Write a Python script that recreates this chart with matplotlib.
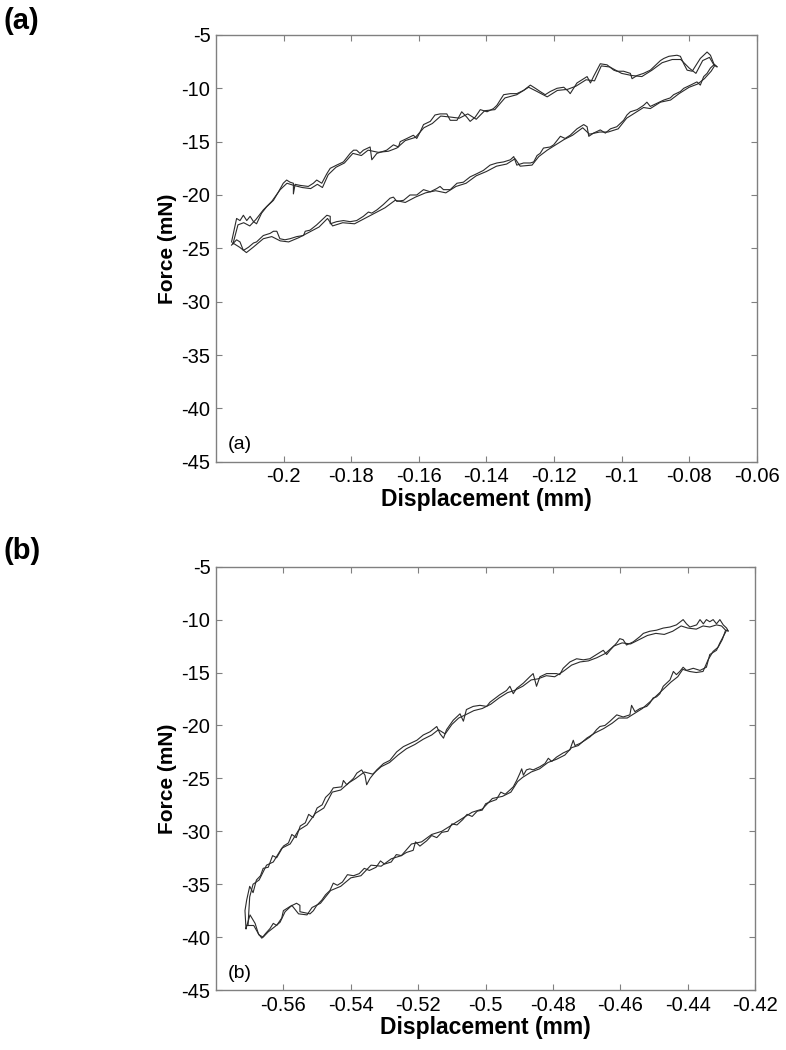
import numpy as np
import matplotlib
matplotlib.use("Agg")
from matplotlib import pyplot as plt

plt.rcParams['font.family'] = ['Liberation Sans', 'DejaVu Sans']
plt.rcParams['axes.unicode_minus'] = False

# ---- panel (a): one loading cycle traced twice (x in mm, force in mN) ----
a1_up_x = [-0.2154, -0.2139, -0.2129, -0.2119, -0.2109, -0.2099, -0.2089, -0.2080, -0.2065, -0.2050,
           -0.2030, -0.2015, -0.2001, -0.1991, -0.1981, -0.1971, -0.1971, -0.1966, -0.1951, -0.1927,
           -0.1912, -0.1902, -0.1887, -0.1872, -0.1862, -0.1843, -0.1823, -0.1803, -0.1793, -0.1784,
           -0.1774, -0.1764, -0.1744, -0.1739, -0.1724, -0.1695, -0.1675, -0.1660, -0.1655, -0.1635,
           -0.1616, -0.1606, -0.1596, -0.1586, -0.1566, -0.1552, -0.1537, -0.1517, -0.1507, -0.1487,
           -0.1473, -0.1458, -0.1448, -0.1433, -0.1418, -0.1398, -0.1379, -0.1369, -0.1349, -0.1329,
           -0.1310, -0.1290, -0.1270, -0.1255, -0.1241, -0.1226, -0.1211, -0.1191, -0.1171, -0.1157,
           -0.1152, -0.1132, -0.1112, -0.1102, -0.1092, -0.1083, -0.1063, -0.1043, -0.1023, -0.1014,
           -0.0994, -0.0974, -0.0969, -0.0954, -0.0935, -0.0915, -0.0905, -0.0885, -0.0875, -0.0860,
           -0.0836, -0.0826, -0.0816, -0.0806, -0.0791, -0.0777, -0.0767, -0.0757, -0.0747, -0.0737,
           -0.0727, -0.0717]
a1_up_y = [-24.4, -22.2, -22.4, -21.9, -22.4, -22.0, -22.5, -22.7, -21.7, -21.1,
           -20.5, -19.7, -18.9, -18.6, -18.8, -18.9, -19.9, -19.0, -19.1, -19.2,
           -18.9, -18.6, -18.9, -18.0, -17.5, -17.2, -16.9, -16.1, -15.8, -15.8,
           -16.1, -15.8, -15.5, -16.7, -16.1, -15.8, -15.3, -15.5, -15.0, -14.7,
           -14.4, -14.7, -14.1, -13.4, -13.1, -12.5, -12.4, -12.4, -13.0, -13.0,
           -12.2, -12.7, -13.1, -12.7, -12.0, -12.2, -11.9, -11.6, -10.6, -10.5,
           -10.5, -10.2, -9.7, -10.0, -10.3, -10.6, -10.3, -10.0, -9.9, -10.3,
           -10.5, -9.5, -9.1, -8.9, -9.5, -8.9, -7.7, -7.8, -8.3, -8.4,
           -8.4, -8.6, -9.1, -8.8, -8.6, -8.3, -8.0, -7.4, -7.2, -7.0,
           -6.9, -7.0, -7.7, -8.3, -8.4, -7.7, -7.2, -6.9, -6.6, -6.9,
           -7.7, -8.0]
a1_lo_x = [-0.2154, -0.2139, -0.2129, -0.2119, -0.2104, -0.2089, -0.2080, -0.2060, -0.2040, -0.2030,
           -0.2020, -0.2011, -0.1996, -0.1981, -0.1961, -0.1941, -0.1936, -0.1922, -0.1902, -0.1882,
           -0.1872, -0.1862, -0.1862, -0.1843, -0.1823, -0.1803, -0.1784, -0.1764, -0.1749, -0.1739,
           -0.1724, -0.1705, -0.1685, -0.1675, -0.1665, -0.1645, -0.1626, -0.1606, -0.1586, -0.1566,
           -0.1547, -0.1537, -0.1527, -0.1507, -0.1487, -0.1468, -0.1448, -0.1428, -0.1409, -0.1389,
           -0.1369, -0.1349, -0.1329, -0.1319, -0.1310, -0.1290, -0.1270, -0.1260, -0.1250, -0.1241,
           -0.1231, -0.1211, -0.1201, -0.1191, -0.1181, -0.1167, -0.1152, -0.1132, -0.1112, -0.1102,
           -0.1097, -0.1083, -0.1063, -0.1048, -0.1033, -0.1014, -0.0994, -0.0984, -0.0974, -0.0954,
           -0.0935, -0.0925, -0.0915, -0.0895, -0.0875, -0.0856, -0.0846, -0.0826, -0.0816, -0.0796,
           -0.0777, -0.0767, -0.0757, -0.0747, -0.0737, -0.0727, -0.0717]
a1_lo_y = [-24.7, -24.2, -24.4, -25.2, -24.9, -24.5, -24.4, -23.8, -23.6, -23.4,
           -23.4, -24.1, -24.2, -24.1, -23.9, -23.8, -23.4, -23.3, -22.8, -22.2,
           -21.9, -22.0, -22.7, -22.5, -22.4, -22.5, -22.4, -22.0, -21.6, -21.7,
           -21.4, -20.9, -20.3, -20.2, -20.6, -20.5, -20.0, -20.0, -19.5, -19.7,
           -19.4, -19.2, -19.5, -19.5, -18.9, -18.8, -18.3, -18.0, -17.7, -17.2,
           -17.0, -16.9, -16.7, -16.4, -17.2, -17.0, -17.0, -16.9, -16.3, -16.1,
           -15.6, -15.5, -15.3, -14.9, -14.5, -14.7, -14.4, -13.8, -13.4, -13.6,
           -14.5, -14.2, -13.9, -14.2, -13.8, -13.6, -13.0, -12.5, -12.2, -12.0,
           -11.6, -11.3, -11.7, -11.4, -11.1, -10.9, -10.6, -10.3, -10.0, -9.7,
           -9.4, -9.7, -8.9, -8.6, -8.1, -7.8, -8.0]

a2_up_x = [-0.2150, -0.2135, -0.2118, -0.2100, -0.2082, -0.2060, -0.2035, -0.2010, -0.1990, -0.1970,
           -0.1945, -0.1920, -0.1900, -0.1885, -0.1868, -0.1845, -0.1820, -0.1795, -0.1770, -0.1750,
           -0.1720, -0.1690, -0.1665, -0.1640, -0.1610, -0.1585, -0.1560, -0.1535, -0.1505, -0.1480,
           -0.1455, -0.1430, -0.1405, -0.1375, -0.1345, -0.1310, -0.1275, -0.1250, -0.1220, -0.1190,
           -0.1160, -0.1135, -0.1105, -0.1080, -0.1060, -0.1035, -0.1000, -0.0970, -0.0940, -0.0910,
           -0.0880, -0.0850, -0.0825, -0.0800, -0.0780, -0.0760, -0.0740, -0.0725]
a2_up_y = [-24.6, -22.8, -22.6, -22.9, -22.3, -21.4, -20.6, -19.5, -18.9, -19.1,
           -19.3, -19.4, -19.0, -19.3, -18.1, -17.4, -17.0, -16.1, -16.3, -15.8,
           -16.0, -15.9, -15.6, -14.9, -14.6, -13.7, -13.3, -12.6, -12.7, -12.8,
           -12.4, -12.9, -12.1, -12.0, -10.9, -10.6, -9.9, -10.3, -10.8, -10.2,
           -10.1, -9.8, -9.2, -9.3, -7.9, -8.0, -8.6, -8.8, -8.9, -8.3,
           -7.6, -7.3, -7.3, -8.1, -8.6, -7.4, -7.1, -7.9]
a2_lo_x = [-0.2150, -0.2130, -0.2110, -0.2090, -0.2060, -0.2035, -0.2010, -0.1985, -0.1955, -0.1925,
           -0.1895, -0.1870, -0.1855, -0.1825, -0.1790, -0.1760, -0.1730, -0.1700, -0.1670, -0.1640,
           -0.1610, -0.1580, -0.1550, -0.1520, -0.1490, -0.1460, -0.1430, -0.1400, -0.1370, -0.1340,
           -0.1315, -0.1300, -0.1265, -0.1245, -0.1220, -0.1195, -0.1170, -0.1145, -0.1115, -0.1095,
           -0.1065, -0.1040, -0.1010, -0.0985, -0.0960, -0.0935, -0.0915, -0.0885, -0.0855, -0.0830,
           -0.0800, -0.0775, -0.0755, -0.0735, -0.0725]
a2_lo_y = [-24.5, -24.9, -25.4, -24.9, -24.1, -23.9, -24.3, -24.4, -24.0, -23.5,
           -23.0, -22.2, -22.9, -22.6, -22.7, -22.2, -21.7, -21.2, -20.5, -20.7,
           -20.2, -19.8, -19.6, -19.8, -19.2, -18.9, -18.2, -17.8, -17.3, -17.1,
           -16.6, -17.3, -17.2, -16.4, -15.8, -15.3, -14.8, -14.4, -13.7, -14.3,
           -14.1, -14.1, -13.8, -12.8, -12.3, -11.8, -11.9, -11.3, -11.1, -10.5,
           -9.9, -9.6, -9.1, -8.4, -7.9]

# ---- panel (b) ----
b1_up_x = [-0.5711, -0.5714, -0.5709, -0.5700, -0.5690, -0.5680, -0.5668, -0.5660, -0.5645, -0.5632,
           -0.5620, -0.5600, -0.5585, -0.5575, -0.5562, -0.5550, -0.5535, -0.5525, -0.5512, -0.5500,
           -0.5485, -0.5475, -0.5462, -0.5452, -0.5427, -0.5422, -0.5412, -0.5392, -0.5382,
           -0.5368, -0.5358, -0.5353, -0.5343, -0.5323, -0.5303, -0.5284, -0.5264, -0.5244, -0.5224,
           -0.5204, -0.5185, -0.5165, -0.5145, -0.5135, -0.5125, -0.5116, -0.5096, -0.5076, -0.5066,
           -0.5057, -0.5037, -0.5017, -0.4997, -0.4987, -0.4958, -0.4938, -0.4928, -0.4918, -0.4908,
           -0.4888, -0.4869, -0.4859, -0.4849, -0.4839, -0.4819, -0.4790, -0.4780, -0.4770, -0.4750,
           -0.4730, -0.4710, -0.4691, -0.4671, -0.4651, -0.4641, -0.4631, -0.4611, -0.4602, -0.4592,
           -0.4582, -0.4562, -0.4542, -0.4532, -0.4513, -0.4493, -0.4473, -0.4453, -0.4434, -0.4414,
           -0.4404, -0.4394, -0.4374, -0.4364, -0.4354, -0.4345, -0.4335, -0.4325, -0.4315, -0.4305,
           -0.4295, -0.4285, -0.4280]
b1_up_y = [-39.2, -37.5, -36.5, -35.2, -35.8, -34.6, -34.2, -33.5, -33.4, -32.3,
           -32.5, -31.4, -31.1, -30.3, -30.6, -29.5, -29.2, -28.4, -28.7, -27.8,
           -27.5, -26.8, -26.4, -25.9, -25.8, -25.2, -25.6, -25.0, -24.5,
           -24.2, -24.7, -25.6, -25.0, -24.2, -23.6, -23.3, -22.5, -22.0, -21.7,
           -21.4, -20.9, -20.6, -20.1, -20.8, -21.2, -20.4, -19.5, -18.9, -19.6,
           -18.5, -18.2, -18.1, -18.2, -17.8, -17.1, -16.7, -16.3, -17.0, -16.5,
           -16.0, -15.4, -15.1, -16.3, -15.4, -15.1, -15.1, -15.2, -14.6, -14.0,
           -13.7, -13.8, -13.7, -13.3, -12.9, -13.3, -12.9, -12.2, -11.8, -11.9,
           -12.4, -12.1, -11.6, -11.3, -11.1, -11.0, -10.8, -10.7, -10.5, -10.0,
           -10.4, -10.7, -10.5, -10.0, -10.4, -10.0, -10.2, -10.0, -10.4, -10.0,
           -10.5, -10.8, -11.1]
# return path, right to left
b1_back_x = [-0.4285, -0.4295, -0.4305, -0.4315, -0.4335, -0.4345, -0.4364, -0.4384, -0.4404, -0.4414,
             -0.4424, -0.4434, -0.4443, -0.4453, -0.4463, -0.4473, -0.4483, -0.4493, -0.4503, -0.4513,
             -0.4522, -0.4542, -0.4557, -0.4567, -0.4572, -0.4592, -0.4611, -0.4621, -0.4631, -0.4646,
             -0.4661, -0.4671, -0.4681, -0.4691, -0.4705, -0.4720, -0.4735, -0.4740, -0.4750, -0.4770,
             -0.4790, -0.4804, -0.4814, -0.4824, -0.4839, -0.4859, -0.4869, -0.4879, -0.4888, -0.4893,
             -0.4898, -0.4908, -0.4918, -0.4928,
             -0.4942, -0.4955, -0.4968, -0.4985, -0.5000, -0.5010, -0.5025, -0.5040, -0.5055, -0.5068,
             -0.5085, -0.5100, -0.5112, -0.5130, -0.5145, -0.5160, -0.5175, -0.5195, -0.5208, -0.5215,
             -0.5235, -0.5250, -0.5265, -0.5280, -0.5300, -0.5312, -0.5325, -0.5345, -0.5360, -0.5375,
             -0.5392, -0.5410, -0.5425, -0.5440, -0.5452, -0.5462, -0.5475, -0.5486,
             -0.5501, -0.5511, -0.5521, -0.5551, -0.5551, -0.5561, -0.5580, -0.5590, -0.5600, -0.5605,
             -0.5620, -0.5630, -0.5640, -0.5654, -0.5664, -0.5674, -0.5684, -0.5699, -0.5711]
b1_back_y = [-11.0, -11.6, -12.2, -12.9, -13.3, -14.5, -14.8, -14.6, -14.8, -14.5,
             -14.9, -15.2, -14.9, -15.7, -16.0, -16.3, -17.0, -17.3, -17.4, -17.9,
             -18.2, -18.4, -18.7, -18.1, -19.0, -19.2, -19.0, -19.3, -19.6, -20.0,
             -20.1, -20.4, -20.8, -21.1, -21.4, -21.7, -21.9, -21.4, -22.3, -22.6,
             -23.0, -23.4, -23.1, -23.6, -23.9, -24.2, -24.1, -24.2, -24.7, -24.1,
             -24.5, -25.2, -25.8, -26.1,
             -26.5, -26.3, -27.0, -27.2, -27.4, -28.0, -28.1, -28.6, -28.4, -28.9,
             -29.4, -29.3, -30.0, -30.1, -30.6, -30.4, -30.9, -31.4, -31.0, -31.8,
             -32.0, -32.3, -32.2, -32.9, -33.1, -32.8, -33.4, -33.7, -33.5, -34.0,
             -34.2, -34.1, -34.8, -35.1, -34.9, -35.6, -36.0, -36.5,
             -37.0, -37.5, -37.8, -37.6, -37.0, -36.8, -37.1, -37.3, -37.5, -38.2,
             -38.9, -38.7, -39.2, -39.7, -40.1, -39.7, -38.7, -37.9, -39.2]

b2_up_x = [-0.5705, -0.5700, -0.5690, -0.5672, -0.5650, -0.5630, -0.5605, -0.5580, -0.5555, -0.5530,
           -0.5505, -0.5480, -0.5455, -0.5430, -0.5405, -0.5385, -0.5360, -0.5335, -0.5310, -0.5285,
           -0.5260, -0.5235, -0.5210, -0.5185, -0.5160, -0.5140, -0.5120, -0.5100, -0.5080, -0.5060,
           -0.5035, -0.5010, -0.4985, -0.4960, -0.4935, -0.4915, -0.4890, -0.4865, -0.4845, -0.4820,
           -0.4795, -0.4770, -0.4745, -0.4720, -0.4695, -0.4670, -0.4645, -0.4620, -0.4595, -0.4570,
           -0.4545, -0.4520, -0.4495, -0.4470, -0.4445, -0.4420, -0.4400, -0.4375, -0.4355, -0.4335,
           -0.4315, -0.4300, -0.4288]
b2_up_y = [-38.9, -36.2, -35.0, -34.6, -33.2, -32.9, -31.6, -31.2, -29.9, -29.4,
           -28.3, -27.8, -26.3, -26.1, -25.4, -25.0, -24.4, -24.6, -23.9, -23.5,
           -22.8, -22.2, -21.8, -21.3, -20.9, -20.4, -20.8, -19.9, -19.3, -19.0,
           -18.6, -18.4, -18.0, -17.4, -16.9, -16.7, -16.3, -15.7, -15.6, -15.3,
           -15.4, -14.9, -14.3, -14.0, -13.9, -13.6, -13.2, -12.5, -12.2, -12.3,
           -11.9, -11.5, -11.3, -11.4, -11.1, -10.6, -10.8, -10.9, -10.6, -10.7,
           -10.5, -10.6, -11.0]
b2_back_x = [-0.4288, -0.4298, -0.4310, -0.4325, -0.4340, -0.4355, -0.4375, -0.4395, -0.4415, -0.4430,
             -0.4450, -0.4470, -0.4490, -0.4510, -0.4535, -0.4560, -0.4580, -0.4605, -0.4625, -0.4650,
             -0.4675, -0.4700, -0.4725, -0.4745, -0.4765, -0.4790, -0.4815, -0.4840, -0.4865, -0.4890,
             -0.4905, -0.4925, -0.4950, -0.4980, -0.5010, -0.5040, -0.5070, -0.5100, -0.5130, -0.5160,
             -0.5190, -0.5220, -0.5250, -0.5280, -0.5310, -0.5340, -0.5370, -0.5400, -0.5430, -0.5460,
             -0.5490, -0.5515, -0.5530, -0.5555, -0.5575, -0.5595, -0.5610, -0.5625, -0.5645, -0.5660,
             -0.5672, -0.5688, -0.5705]
b2_back_y = [-11.0, -11.9, -12.6, -13.0, -13.8, -14.9, -15.0, -14.9, -14.7, -15.4,
             -15.9, -16.5, -17.1, -17.7, -18.4, -18.9, -19.3, -19.3, -19.8, -20.3,
             -20.7, -21.2, -21.9, -22.1, -22.8, -23.2, -23.5, -24.1, -24.4, -24.9,
             -25.3, -26.3, -26.7, -26.9, -27.9, -28.2, -28.8, -29.4, -30.0, -30.3,
             -31.0, -31.2, -32.3, -32.6, -33.3, -33.2, -34.2, -34.4, -35.2, -35.6,
             -36.8, -37.2, -37.9, -37.8, -37.0, -37.6, -38.6, -39.0, -39.5, -40.0,
             -39.8, -38.9, -38.9]

yticks = [-45, -40, -35, -30, -25, -20, -15, -10, -5]
a_xticks = [-0.2, -0.18, -0.16, -0.14, -0.12, -0.1, -0.08, -0.06]
a_xlabels = ['-0.2', '-0.18', '-0.16', '-0.14', '-0.12', '-0.1', '-0.08', '-0.06']
b_xticks = [-0.56, -0.54, -0.52, -0.5, -0.48, -0.46, -0.44, -0.42]
b_xlabels = ['-0.56', '-0.54', '-0.52', '-0.5', '-0.48', '-0.46', '-0.44', '-0.42']

fig = plt.figure(figsize=(7.86, 10.5), dpi=100)
ax_a = fig.add_axes([0.2748, 0.5603, 0.688, 0.4064])
ax_b = fig.add_axes([0.2748, 0.0571, 0.6861, 0.4032])

line_kw = dict(color='#2b2b2b', lw=0.8)
ax_a.plot(a1_up_x + a1_lo_x[::-1], a1_up_y + a1_lo_y[::-1], **line_kw)
ax_a.plot(a2_up_x + a2_lo_x[::-1], a2_up_y + a2_lo_y[::-1], **line_kw)
ax_b.plot(b1_up_x + b1_back_x, b1_up_y + b1_back_y, **line_kw)
ax_b.plot(b2_up_x + b2_back_x, b2_up_y + b2_back_y, **line_kw)

for ax, xlim, xt, xl, tag in [(ax_a, (-0.22, -0.06), a_xticks, a_xlabels, '(a)'),
                              (ax_b, (-0.58, -0.42), b_xticks, b_xlabels, '(b)')]:
    ax.set_xlim(*xlim)
    ax.set_ylim(-45, -5)
    ax.set_xticks(xt)
    ax.set_xticklabels(xl)
    ax.set_yticks(yticks)
    ax.tick_params(direction='in', length=4, width=0.8, color='#808080',
                   top=True, right=True, labelsize=14.5, pad=4)
    for s in ax.spines.values():
        s.set_color('#808080')
        s.set_linewidth(1.0)
    ax.set_xlabel('Displacement (mm)', fontsize=16.5, fontweight='bold', labelpad=1)
    ax.set_ylabel('Force (mN)', fontsize=15, fontweight='bold', labelpad=3)
    ax.text(0.022, 0.04, tag, transform=ax.transAxes, fontsize=14, va='center', ha='left')

fig.text(0.004, 1 - 21 / 1050, '(a)', fontsize=21, fontweight='bold', va='center', ha='left')
fig.text(0.004, 1 - 551 / 1050, '(b)', fontsize=21, fontweight='bold', va='center', ha='left')

fig.savefig('out.png', dpi=100)
